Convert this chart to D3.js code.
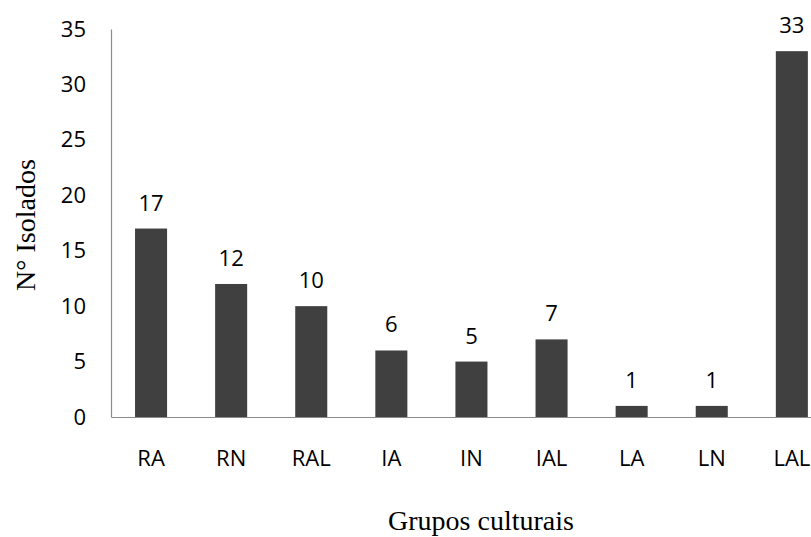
<!DOCTYPE html>
<html>
<head>
<meta charset="utf-8">
<script src="https://cdn.jsdelivr.net/npm/d3@7"></script>
<style>
  body { margin: 0; background: #fff; }
  svg { display: block; }
</style>
</head>
<body>
<svg id="chart" width="811" height="537"></svg>
<script>
// Number of isolates per cultural group
const categories = ["RA", "RN", "RAL", "IA", "IN", "IAL", "LA", "LN", "LAL"];
const values = [17, 12, 10, 6, 5, 7, 1, 1, 33];
const yTicks = [0, 5, 10, 15, 20, 25, 30, 35];

const svg = d3.select("#chart");
const plotLeft = 111, plotBottom = 417, plotTop = 29;
const step = 80.1;

const x = d3.scaleBand()
  .domain(categories)
  .range([plotLeft, plotLeft + step * categories.length])
  .paddingInner(0.6)
  .paddingOuter(0.3);

const y = d3.scaleLinear().domain([0, 35]).range([plotBottom, plotTop]);

const sansFont = "'Open Sans', sans-serif";
const serifFont = "'Liberation Serif', 'Times New Roman', serif";
const labelSize = 22;

// Bars
svg.append("g").selectAll("rect")
  .data(values)
  .join("rect")
  .attr("x", (d, i) => x(categories[i]))
  .attr("y", d => y(d))
  .attr("width", x.bandwidth())
  .attr("height", d => y(0) - y(d))
  .attr("fill", "#404040");

// Value labels above bars
svg.append("g").selectAll("text")
  .data(values)
  .join("text")
  .attr("x", (d, i) => x(categories[i]) + x.bandwidth() / 2)
  .attr("y", d => y(d) - 18)
  .attr("text-anchor", "middle")
  .attr("font-family", sansFont)
  .attr("font-size", labelSize)
  .attr("fill", "#000")
  .text(d => d);

// Y axis
const yAxis = svg.append("g")
  .attr("transform", `translate(${plotLeft},0)`)
  .call(d3.axisLeft(y).tickValues(yTicks).tickSize(0).tickPadding(25));
yAxis.select(".domain").attr("stroke", "#8c8c8c").attr("stroke-width", 1.2);
yAxis.selectAll("text")
  .attr("font-family", sansFont)
  .attr("font-size", labelSize)
  .attr("fill", "#000");

// X axis
const xAxis = svg.append("g")
  .attr("transform", `translate(0,${plotBottom})`)
  .call(d3.axisBottom(x).tickSize(0).tickPadding(33));
xAxis.select(".domain").attr("stroke", "#8c8c8c").attr("stroke-width", 1.2);
xAxis.selectAll("text")
  .attr("font-family", sansFont)
  .attr("font-size", labelSize)
  .attr("fill", "#000");

// Axis titles
svg.append("text")
  .attr("transform", "translate(35,225) rotate(-90)")
  .attr("text-anchor", "middle")
  .attr("font-family", serifFont)
  .attr("font-size", 28)
  .attr("fill", "#000")
  .text("N° Isolados");

svg.append("text")
  .attr("x", 481)
  .attr("y", 530)
  .attr("text-anchor", "middle")
  .attr("font-family", serifFont)
  .attr("font-size", 28)
  .attr("fill", "#000")
  .text("Grupos culturais");
</script>
</body>
</html>
